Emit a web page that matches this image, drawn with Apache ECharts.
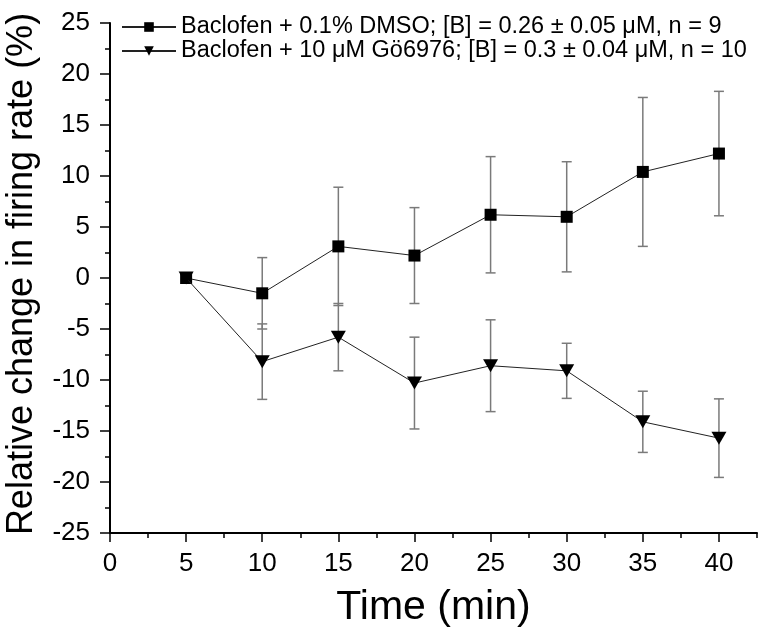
<!DOCTYPE html>
<html>
<head>
<meta charset="utf-8">
<script src="https://cdn.jsdelivr.net/npm/echarts@6/dist/echarts.min.js"></script>
<style>
html,body{margin:0;padding:0;background:#fff;}
#chart{width:762px;height:633px;}
</style>
</head>
<body>
<div id="chart"></div>
<script>
const times = [5, 10, 15, 20, 25, 30, 35, 40];
const dmsoMean = [0, -1.5, 3.1, 2.2, 6.2, 6.0, 10.4, 12.2];
const dmsoErr  = [0, 3.5, 5.8, 4.7, 5.7, 5.4, 7.3, 6.1];
const goMean   = [0, -8.2, -5.8, -10.3, -8.6, -9.1, -14.1, -15.7];
const goErr    = [0, 3.7, 3.3, 4.5, 4.5, 2.7, 3.0, 3.85];
const xTicks = [0, 5, 10, 15, 20, 25, 30, 35, 40];
const xMinorTicks = [2.5, 7.5, 12.5, 17.5, 22.5, 27.5, 32.5, 37.5, 42.5];
const yTicks = [-25, -20, -15, -10, -5, 0, 5, 10, 15, 20, 25];
const dmsoName = 'Baclofen + 0.1% DMSO; [B] = 0.26 ± 0.05 μM, n = 9';
const goName = 'Baclofen + 10 μM Gö6976; [B] = 0.3 ± 0.04 μM, n = 10';
const xTitle = 'Time (min)';
const yTitle = 'Relative change in firing rate (%)';

const FONT = '"Liberation Sans", Arial, sans-serif';
const triDown = 'path://M0,0 L10,0 L5,9 Z';

function errData(mean, err) {
  const out = [];
  for (let i = 0; i < times.length; i++) {
    if (err[i] > 0) out.push([times[i], mean[i] - err[i], mean[i] + err[i]]);
  }
  return out;
}
function errRender(params, api) {
  const x = api.value(0);
  const lo = api.coord([x, api.value(1)]);
  const hi = api.coord([x, api.value(2)]);
  const w = 5;
  const st = { stroke: '#7a7a7a', lineWidth: 1.5 };
  return {
    type: 'group',
    children: [
      { type: 'line', shape: { x1: lo[0], y1: lo[1], x2: hi[0], y2: hi[1] }, style: st },
      { type: 'line', shape: { x1: lo[0] - w, y1: lo[1], x2: lo[0] + w, y2: lo[1] }, style: st },
      { type: 'line', shape: { x1: hi[0] - w, y1: hi[1], x2: hi[0] + w, y2: hi[1] }, style: st }
    ]
  };
}

const chart = echarts.init(document.getElementById('chart'));
chart.setOption({
  animation: false,
  backgroundColor: '#fff',
  grid: { left: 110, right: 5, top: 23, bottom: 100 },
  legend: {
    orient: 'vertical',
    left: 116,
    top: 10,
    itemWidth: 54,
    itemHeight: 12,
    itemGap: 0,
    textStyle: { fontFamily: FONT, fontSize: 23.5, lineHeight: 24, color: '#000' },
    data: [dmsoName, goName]
  },
  xAxis: [{
    type: 'value', min: 0, max: 42.5,
    name: xTitle, nameLocation: 'middle', nameGap: 54,
    nameTextStyle: { fontFamily: FONT, fontSize: 41, color: '#000' },
    axisLine: { show: true, onZero: false, lineStyle: { color: '#000', width: 2 } },
    axisTick: { show: true, inside: false, length: 9, customValues: xTicks, lineStyle: { color: '#000', width: 1.5 } },
    axisLabel: { customValues: xTicks, fontFamily: FONT, fontSize: 26, color: '#000', margin: 18 },
    splitLine: { show: false }
  }, {
    type: 'value', min: 0, max: 42.5, position: 'bottom',
    axisLine: { show: false, onZero: false },
    axisTick: { show: true, length: 5, customValues: xMinorTicks, lineStyle: { color: '#000', width: 1.5 } },
    axisLabel: { show: false },
    splitLine: { show: false }
  }],
  yAxis: {
    type: 'value', min: -25, max: 25, interval: 5,
    axisLine: { show: true, onZero: false, lineStyle: { color: '#000', width: 2 } },
    axisTick: { show: true, length: 10, lineStyle: { color: '#000', width: 1.5 } },
    minorTick: { show: true, splitNumber: 2, length: 5, lineStyle: { color: '#000', width: 1.5 } },
    axisLabel: { fontFamily: FONT, fontSize: 26, color: '#000', margin: 20 },
    splitLine: { show: false }
  },
  graphic: [{
    type: 'text',
    x: 22, y: 274,
    rotation: Math.PI / 2,
    style: { text: yTitle, font: '36px ' + FONT, fill: '#000', align: 'center', verticalAlign: 'middle' }
  }],
  series: [
    {
      type: 'custom', name: 'dmsoErr', renderItem: errRender, data: errData(dmsoMean, dmsoErr), z: 1, silent: true
    },
    {
      type: 'custom', name: 'goErr', renderItem: errRender, data: errData(goMean, goErr), z: 1, silent: true
    },
    {
      type: 'line', name: dmsoName, data: times.map((t, i) => [t, dmsoMean[i]]),
      symbol: 'rect', symbolSize: 12,
      lineStyle: { color: '#222', width: 1 },
      itemStyle: { color: '#000' }, z: 3
    },
    {
      type: 'line', name: goName, data: times.map((t, i) => [t, goMean[i]]),
      symbol: triDown, symbolSize: [15, 13],
      lineStyle: { color: '#222', width: 1 },
      itemStyle: { color: '#000' }, z: 4
    }
  ]
});
</script>
</body>
</html>
